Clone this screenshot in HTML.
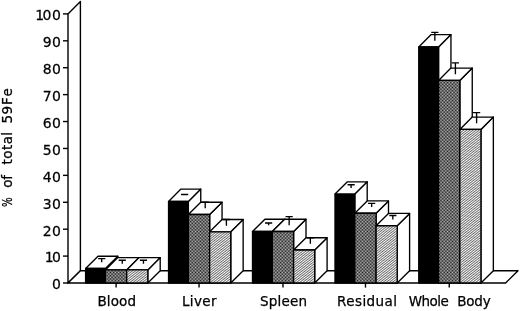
<!DOCTYPE html>
<html><head><meta charset="utf-8"><title>chart</title><style>html,body{margin:0;padding:0;background:#fff}svg{display:block}</style></head><body>
<svg width="520" height="311" viewBox="0 0 520 311">
<defs>
<pattern id="p2" width="1.44" height="1.44" patternUnits="userSpaceOnUse"><rect width="1.44" height="1.44" fill="#0c0c0c"/><rect x="0" y="0" width="0.72" height="0.72" fill="#c8c8c8"/><rect x="0.72" y="0.72" width="0.72" height="0.72" fill="#c8c8c8"/></pattern>
<pattern id="p3" width="4" height="1.9" patternUnits="userSpaceOnUse" patternTransform="rotate(-38)"><rect width="4" height="1.9" fill="#fcfcfc"/><rect x="0" y="0" width="4" height="0.66" fill="#2a2a2a"/></pattern>
</defs>
<rect width="520" height="311" fill="#fff"/>
<g fill="#fff" stroke="#000" stroke-width="1.4" stroke-linejoin="round">
<path d="M68.0,13.90 L80.4,1.60 L80.4,270.7 L68.0,283.0 Z"/>
<path d="M68.0,283.0 L505.6,283.0 L518.0,270.7 L80.4,270.7 Z"/>
</g>
<g stroke="#000" stroke-width="1.4">
<line x1="63" y1="283.00" x2="68.0" y2="283.00"/>
<line x1="63" y1="256.09" x2="68.0" y2="256.09"/>
<line x1="63" y1="229.18" x2="68.0" y2="229.18"/>
<line x1="63" y1="202.27" x2="68.0" y2="202.27"/>
<line x1="63" y1="175.36" x2="68.0" y2="175.36"/>
<line x1="63" y1="148.45" x2="68.0" y2="148.45"/>
<line x1="63" y1="121.54" x2="68.0" y2="121.54"/>
<line x1="63" y1="94.63" x2="68.0" y2="94.63"/>
<line x1="63" y1="67.72" x2="68.0" y2="67.72"/>
<line x1="63" y1="40.81" x2="68.0" y2="40.81"/>
<line x1="63" y1="13.90" x2="68.0" y2="13.90"/>
<line x1="116.10" y1="283.0" x2="116.10" y2="287.6"/>
<line x1="199.05" y1="283.0" x2="199.05" y2="287.6"/>
<line x1="283.00" y1="283.0" x2="283.00" y2="287.6"/>
<line x1="365.50" y1="283.0" x2="365.50" y2="287.6"/>
<line x1="449.25" y1="283.0" x2="449.25" y2="287.6"/>
</g>
<g stroke="#000" stroke-width="1.35" stroke-linejoin="round">
<path fill="#fff" d="M105.40,268.50 L117.80,256.20 L117.80,270.70 L105.40,283.0 Z"/>
<path fill="#fff" d="M85.60,268.50 L98.00,256.20 L117.80,256.20 L105.40,268.50 Z"/>
<rect x="85.60" y="268.50" width="19.8" height="14.50" fill="#000"/>
<path fill="none" d="M101.70,262.35 L101.70,258.60 M98.10,258.60 L105.30,258.60"/>
</g>
<g stroke="#000" stroke-width="1.35" stroke-linejoin="round">
<path fill="#fff" d="M126.70,269.90 L139.10,257.60 L139.10,270.70 L126.70,283.0 Z"/>
<path fill="#fff" d="M105.40,269.90 L117.80,257.60 L139.10,257.60 L126.70,269.90 Z"/>
<rect x="105.40" y="269.90" width="21.3" height="13.10" fill="url(#p2)"/>
<path fill="none" d="M122.25,263.75 L122.25,260.20 M118.65,260.20 L125.85,260.20"/>
</g>
<g stroke="#000" stroke-width="1.35" stroke-linejoin="round">
<path fill="#fff" d="M147.80,269.90 L160.20,257.60 L160.20,270.70 L147.80,283.0 Z"/>
<path fill="#fff" d="M126.70,269.90 L139.10,257.60 L160.20,257.60 L147.80,269.90 Z"/>
<rect x="126.70" y="269.90" width="21.1" height="13.10" fill="url(#p3)"/>
<path fill="none" d="M143.45,263.75 L143.45,260.20 M139.85,260.20 L147.05,260.20"/>
</g>
<g stroke="#000" stroke-width="1.35" stroke-linejoin="round">
<path fill="#fff" d="M188.35,201.40 L200.75,189.10 L200.75,270.70 L188.35,283.0 Z"/>
<path fill="#fff" d="M168.55,201.40 L180.95,189.10 L200.75,189.10 L188.35,201.40 Z"/>
<rect x="168.55" y="201.40" width="19.8" height="81.60" fill="#000"/>
<path fill="none" d="M184.65,195.25 L184.65,194.50 M181.05,194.50 L188.25,194.50"/>
</g>
<g stroke="#000" stroke-width="1.35" stroke-linejoin="round">
<path fill="#fff" d="M209.65,214.50 L222.05,202.20 L222.05,270.70 L209.65,283.0 Z"/>
<path fill="#fff" d="M188.35,214.50 L200.75,202.20 L222.05,202.20 L209.65,214.50 Z"/>
<rect x="188.35" y="214.50" width="21.3" height="68.50" fill="url(#p2)"/>
<path fill="none" d="M205.20,208.35 L205.20,202.20 M201.60,202.20 L208.80,202.20"/>
</g>
<g stroke="#000" stroke-width="1.35" stroke-linejoin="round">
<path fill="#fff" d="M230.75,231.80 L243.15,219.50 L243.15,270.70 L230.75,283.0 Z"/>
<path fill="#fff" d="M209.65,231.80 L222.05,219.50 L243.15,219.50 L230.75,231.80 Z"/>
<rect x="209.65" y="231.80" width="21.1" height="51.20" fill="url(#p3)"/>
<path fill="none" d="M226.40,225.65 L226.40,219.50 M222.80,219.50 L230.00,219.50"/>
</g>
<g stroke="#000" stroke-width="1.35" stroke-linejoin="round">
<path fill="#fff" d="M272.30,231.50 L284.70,219.20 L284.70,270.70 L272.30,283.0 Z"/>
<path fill="#fff" d="M252.50,231.50 L264.90,219.20 L284.70,219.20 L272.30,231.50 Z"/>
<rect x="252.50" y="231.50" width="19.8" height="51.50" fill="#000"/>
<path fill="none" d="M268.60,225.35 L268.60,223.00 M265.00,223.00 L272.20,223.00"/>
</g>
<g stroke="#000" stroke-width="1.35" stroke-linejoin="round">
<path fill="#fff" d="M293.60,231.50 L306.00,219.20 L306.00,270.70 L293.60,283.0 Z"/>
<path fill="#fff" d="M272.30,231.50 L284.70,219.20 L306.00,219.20 L293.60,231.50 Z"/>
<rect x="272.30" y="231.50" width="21.3" height="51.50" fill="url(#p2)"/>
<path fill="none" d="M289.15,225.35 L289.15,216.60 M285.55,216.60 L292.75,216.60"/>
</g>
<g stroke="#000" stroke-width="1.35" stroke-linejoin="round">
<path fill="#fff" d="M314.70,250.00 L327.10,237.70 L327.10,270.70 L314.70,283.0 Z"/>
<path fill="#fff" d="M293.60,250.00 L306.00,237.70 L327.10,237.70 L314.70,250.00 Z"/>
<rect x="293.60" y="250.00" width="21.1" height="33.00" fill="url(#p3)"/>
<path fill="none" d="M310.35,243.85 L310.35,237.70 M306.75,237.70 L313.95,237.70"/>
</g>
<g stroke="#000" stroke-width="1.35" stroke-linejoin="round">
<path fill="#fff" d="M354.80,194.10 L367.20,181.80 L367.20,270.70 L354.80,283.0 Z"/>
<path fill="#fff" d="M335.00,194.10 L347.40,181.80 L367.20,181.80 L354.80,194.10 Z"/>
<rect x="335.00" y="194.10" width="19.8" height="88.90" fill="#000"/>
<path fill="none" d="M351.10,187.95 L351.10,184.70 M347.50,184.70 L354.70,184.70"/>
</g>
<g stroke="#000" stroke-width="1.35" stroke-linejoin="round">
<path fill="#fff" d="M376.10,213.20 L388.50,200.90 L388.50,270.70 L376.10,283.0 Z"/>
<path fill="#fff" d="M354.80,213.20 L367.20,200.90 L388.50,200.90 L376.10,213.20 Z"/>
<rect x="354.80" y="213.20" width="21.3" height="69.80" fill="url(#p2)"/>
<path fill="none" d="M371.65,207.05 L371.65,203.30 M368.05,203.30 L375.25,203.30"/>
</g>
<g stroke="#000" stroke-width="1.35" stroke-linejoin="round">
<path fill="#fff" d="M397.20,225.70 L409.60,213.40 L409.60,270.70 L397.20,283.0 Z"/>
<path fill="#fff" d="M376.10,225.70 L388.50,213.40 L409.60,213.40 L397.20,225.70 Z"/>
<rect x="376.10" y="225.70" width="21.1" height="57.30" fill="url(#p3)"/>
<path fill="none" d="M392.85,219.55 L392.85,215.50 M389.25,215.50 L396.45,215.50"/>
</g>
<g stroke="#000" stroke-width="1.35" stroke-linejoin="round">
<path fill="#fff" d="M438.55,46.90 L450.95,34.60 L450.95,270.70 L438.55,283.0 Z"/>
<path fill="#fff" d="M418.75,46.90 L431.15,34.60 L450.95,34.60 L438.55,46.90 Z"/>
<rect x="418.75" y="46.90" width="19.8" height="236.10" fill="#000"/>
<path fill="none" d="M434.85,40.75 L434.85,32.40 M431.25,32.40 L438.45,32.40"/>
</g>
<g stroke="#000" stroke-width="1.35" stroke-linejoin="round">
<path fill="#fff" d="M459.85,80.40 L472.25,68.10 L472.25,270.70 L459.85,283.0 Z"/>
<path fill="#fff" d="M438.55,80.40 L450.95,68.10 L472.25,68.10 L459.85,80.40 Z"/>
<rect x="438.55" y="80.40" width="21.3" height="202.60" fill="url(#p2)"/>
<path fill="none" d="M455.40,74.25 L455.40,62.80 M451.80,62.80 L459.00,62.80"/>
</g>
<g stroke="#000" stroke-width="1.35" stroke-linejoin="round">
<path fill="#fff" d="M480.95,129.40 L493.35,117.10 L493.35,270.70 L480.95,283.0 Z"/>
<path fill="#fff" d="M459.85,129.40 L472.25,117.10 L493.35,117.10 L480.95,129.40 Z"/>
<rect x="459.85" y="129.40" width="21.1" height="153.60" fill="url(#p3)"/>
<path fill="none" d="M476.60,123.25 L476.60,112.60 M473.00,112.60 L480.20,112.60"/>
</g>
<g font-family="DejaVu Sans, Liberation Sans, sans-serif" font-size="13.5" fill="#000" stroke="#000" stroke-width="0.25">
<text transform="translate(60.8,289.40) scale(1,1.05)" font-size="14" text-anchor="end">0</text>
<text transform="translate(60.8,262.49) scale(1,1.05)" font-size="14" text-anchor="end">1<tspan dx="-1.7">0</tspan></text>
<text transform="translate(60.8,235.58) scale(1,1.05)" font-size="14" text-anchor="end">2<tspan dx="0.35">0</tspan></text>
<text transform="translate(60.8,208.67) scale(1,1.05)" font-size="14" text-anchor="end">3<tspan dx="0.35">0</tspan></text>
<text transform="translate(60.8,181.76) scale(1,1.05)" font-size="14" text-anchor="end">4<tspan dx="0.35">0</tspan></text>
<text transform="translate(60.8,154.85) scale(1,1.05)" font-size="14" text-anchor="end">5<tspan dx="0.35">0</tspan></text>
<text transform="translate(60.8,127.94) scale(1,1.05)" font-size="14" text-anchor="end">6<tspan dx="0.35">0</tspan></text>
<text transform="translate(60.8,101.03) scale(1,1.05)" font-size="14" text-anchor="end">7<tspan dx="0.35">0</tspan></text>
<text transform="translate(60.8,74.12) scale(1,1.05)" font-size="14" text-anchor="end">8<tspan dx="0.35">0</tspan></text>
<text transform="translate(60.8,47.21) scale(1,1.05)" font-size="14" text-anchor="end">9<tspan dx="0.35">0</tspan></text>
<text transform="translate(60.8,20.30) scale(1,1.05)" font-size="14" text-anchor="end">1<tspan dx="-1.7">0</tspan><tspan dx="0.6">0</tspan></text>
<text x="97.5" y="305.7" letter-spacing="0.1">Blood</text>
<text x="181.9" y="305.7" letter-spacing="0.4">Liver</text>
<text x="260.0" y="305.7" letter-spacing="0.2">Spleen</text>
<text x="337.0" y="305.7" letter-spacing="0.43">Residual</text>
<text y="305.7"><tspan x="408.7" letter-spacing="-0.5">Whole</tspan> <tspan x="457.3" letter-spacing="-0.25">Body</tspan></text>
<text transform="translate(12,207) rotate(-90)"><tspan x="0" textLength="9.6" lengthAdjust="spacingAndGlyphs">%</tspan> <tspan x="19.3" letter-spacing="-0.2">of</tspan> <tspan x="42.6" letter-spacing="0.4">total</tspan> <tspan x="83.5" dx="0 0.5 0.8 1.6">59Fe</tspan></text>
</g>
</svg>
</body></html>
